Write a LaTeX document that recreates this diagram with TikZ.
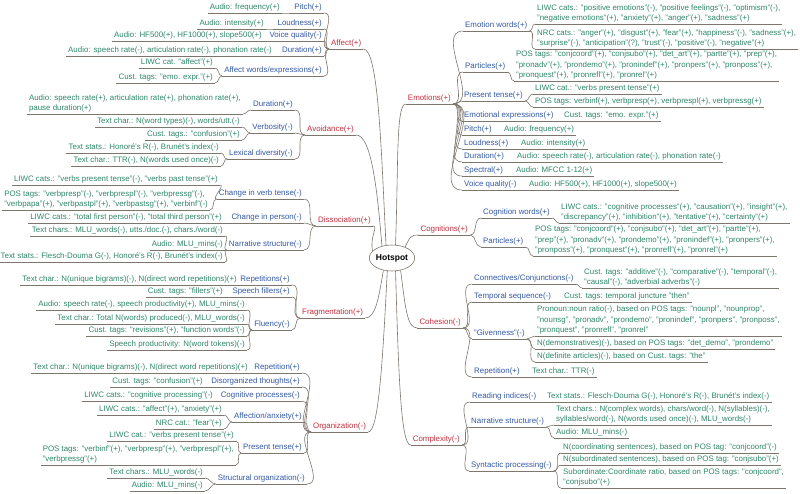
\documentclass[tikz,border=0pt]{standalone}
\usepackage{fontspec}
\setmainfont{Liberation Sans}
\usepackage{xcolor}
\usepackage{tikz}
\usetikzlibrary{shapes.geometric}
\definecolor{mmred}{RGB}{200,45,60}
\definecolor{mmblue}{RGB}{50,88,168}
\definecolor{mmgreen}{RGB}{45,135,105}
\definecolor{mmline}{RGB}{125,118,108}

\begin{document}
\begin{tikzpicture}
  [x=1pt,y=-1pt,
   every node/.style={font=\fontsize{7.9}{10.5}\selectfont,inner xsep=2pt,inner ysep=1.6pt},
   link/.style={draw=mmline,line width=0.6pt},
   fork/.style={out=0,in=180},
   uline/.style={append after command={(\tikzlastnode.south west) edge[link] (\tikzlastnode.south east)}},
   lmain/.style={uline,text=mmred,anchor=south west},
   rmain/.style={uline,text=mmred,anchor=south east},
   lsub/.style={uline,text=mmblue,anchor=south east},
   rsub/.style={uline,text=mmblue,anchor=south west},
   lleaf/.style={uline,text=mmgreen,anchor=south east,align=left},
   rleaf/.style={uline,text=mmgreen,anchor=south west,align=left}]
    \useasboundingbox (0,0) rectangle (800,494);

    \node[draw=mmline,line width=0.6pt,ellipse,inner sep=0pt,minimum width=43pt,minimum height=26pt,
          font=\fontsize{8.5}{10}\selectfont\bfseries] (hot) at (392,258) {Hotspot};

    % left side
    \node[lmain] (af) at (329,49) {Affect(+)};
    \node[lsub] (af1) at (324,13) {Pitch(+)};
    \node[lleaf] (af1a) at (282,13) {Audio: frequency(+)};
    \node[lsub] (af2) at (324,29) {Loudness(+)};
    \node[lleaf] (af2a) at (266,29) {Audio: intensity(+)};
    \node[lsub] (af3) at (324,41) {Voice quality(-)};
    \node[lleaf] (af3a) at (264,41) {Audio: HF500(+), HF1000(+), slope500(+)};
    \node[lsub] (af4) at (324,56) {Duration(+)};
    \node[lleaf] (af4a) at (274,56) {Audio: speech rate(-), articulation rate(-), phonation rate(-)};
    \node[lsub] (af5) at (324,76) {Affect words/expressions(+)};
    \node[lleaf] (af5a) at (215,68) {LIWC cat. "affect"(+)};
    \node[lleaf] (af5b) at (215,83) {Cust. tags: "emo. expr."(+)};

    \node[lmain] (av) at (305,135) {Avoidance(+)};
    \node[lsub] (av1) at (295,110) {Duration(+)};
    \node[lleaf] (av1a) at (243,114) {Audio: speech rate(+), articulation rate(+), phonation rate(+),\\pause duration(+)};
    \node[lsub] (av2) at (295,133) {Verbosity(-)};
    \node[lleaf] (av2a) at (242,127) {Text char.: N(word types)(-), words/utt.(-)};
    \node[lleaf] (av2b) at (242,140) {Cust. tags.: "confusion"(+)};
    \node[lsub] (av3) at (295,159) {Lexical diversity(-)};
    \node[lleaf] (av3a) at (221,153) {Text stats.: Honoré's R(-), Brunét's index(-)};
    \node[lleaf] (av3b) at (221,166) {Text char.: TTR(-), N(words used once)(-)};

    \node[lmain] (di) at (316,226) {Dissociation(+)};
    \node[lsub] (di1) at (304,199) {Change in verb tense(-)};
    \node[lleaf] (di1a) at (220,185) {LIWC cats.: "verbs present tense"(-), "verbs past tense"(+)};
    \node[lleaf] (di1b) at (210,210) {POS tags: "verbpresp"(-), "verbprespl"(-), "verbpressg"(-),\\"verbpapa"(+), "verbpastpl"(+), "verbpastsg"(+), "verbinf"(-)};
    \node[lsub] (di2) at (304,223) {Change in person(-)};
    \node[lleaf] (di2a) at (224,223) {LIWC cats.: "total first person"(-), "total third person"(+)};
    \node[lsub] (di3) at (304,250) {Narrative structure(-)};
    \node[lleaf] (di3a) at (225,236) {Text chars.: MLU\_words(-), utts./doc.(-), chars./word(-)};
    \node[lleaf] (di3b) at (225,250) {Audio: MLU\_mins(-)};
    \node[lleaf] (di3c) at (225,262) {Text stats.: Flesch-Douma G(-), Honoré's R(-), Brunét's index(-)};

    \node[lmain] (fr) at (300,318) {Fragmentation(+)};
    \node[lsub] (fr1) at (292,285) {Repetitions(+)};
    \node[lleaf] (fr1a) at (239,285) {Text char.: N(unique bigrams)(-), N(direct word repetitions)(+)};
    \node[lsub] (fr2) at (292,297) {Speech fillers(+)};
    \node[lleaf] (fr2a) at (225,297) {Cust. tags: "fillers"(+)};
    \node[lsub] (fr3) at (292,330) {Fluency(-)};
    \node[lleaf] (fr3a) at (247,310) {Audio: speech rate(-), speech productivity(+), MLU\_mins(-)};
    \node[lleaf] (fr3b) at (247,324) {Text char.: Total N(words) produced(-), MLU\_words(-)};
    \node[lleaf] (fr3c) at (247,336) {Cust. tags: "revisions"(+), "function words"(-)};
    \node[lleaf] (fr3d) at (247,350) {Speech productivity: N(word tokens)(-)};

    \node[lmain] (or) at (311,432) {Organization(-)};
    \node[lsub] (or1) at (302,373) {Repetition(+)};
    \node[lleaf] (or1a) at (250,373) {Text char.: N(unique bigrams)(-), N(direct word repetitions)(+)};
    \node[lsub] (or2) at (302,387) {Disorganized thoughts(+)};
    \node[lleaf] (or2a) at (205,387) {Cust. tags: "confusion"(+)};
    \node[lsub] (or3) at (302,401) {Cognitive processes(-)};
    \node[lleaf] (or3a) at (215,401) {LIWC cats.: "cognitive processing"(-)};
    \node[lsub] (or4) at (304,422) {Affection/anxiety(+)};
    \node[lleaf] (or4a) at (224,415) {LIWC cats.: "affect"(+), "anxiety"(+)};
    \node[lleaf] (or4b) at (224,429) {NRC cat.: "fear"(+)};
    \node[lsub] (or5) at (304,453) {Present tense(+)};
    \node[lleaf] (or5a) at (236,441) {LIWC cat.: "verbs present tense"(+)};
    \node[lleaf] (or5b) at (236,465) {POS tags: "verbinf"(+), "verbpresp"(+), "verbprespl"(+),\\"verbpressg"(+)};
    \node[lsub] (or6) at (307,484) {Structural organization(-)};
    \node[lleaf] (or6a) at (205,478) {Text chars.: MLU\_words(-)};
    \node[lleaf] (or6b) at (205,491) {Audio: MLU\_mins(-)};

    % right side
    \node[rmain] (em) at (453,104) {Emotions(+)};
    \node[rsub] (em1) at (463,31) {Emotion words(+)};
    \node[rleaf] (em1a) at (535,24) {LIWC cats.: "positive emotions"(-), "positive feelings"(-), "optimism"(-),\\"negative emotions"(+), "anxiety"(+), "anger"(+), "sadness"(+)};
    \node[rleaf] (em1b) at (535,49) {NRC cats.: "anger"(+), "disgust"(+), "fear"(+), "happiness"(-), "sadness"(+),\\"surprise"(-), "anticipation"(?), "trust"(-), "positive"(-), "negative"(+)};
    \node[rsub] (em2) at (463,72) {Particles(+)};
    \node[rleaf] (em2a) at (514,81) {POS tags: "conjcoord"(+), "conjsubo"(+), "det\_art"(+), "partte"(+), "prep"(+),\\"pronadv"(+), "prondemo"(+), "pronindef"(+), "pronpers"(+), "pronposs"(+),\\"pronquest"(+), "pronrefl"(+), "pronrel"(+)};
    \node[rsub] (em3) at (462,101) {Present tense(+)};
    \node[rleaf] (em3a) at (533,94) {LIWC cat.: "verbs present tense"(+)};
    \node[rleaf] (em3b) at (533,107) {POS tags: verbinf(+), verbpresp(+), verbprespl(+), verbpressg(+)};
    \node[rsub] (em4) at (462,121) {Emotional expressions(+)};
    \node[rleaf] (em4a) at (562,121) {Cust. tags: "emo. expr."(+)};
    \node[rsub] (em5) at (462,135) {Pitch(+)};
    \node[rleaf] (em5a) at (502,135) {Audio: frequency(+)};
    \node[rsub] (em6) at (462,149) {Loudness(+)};
    \node[rleaf] (em6a) at (519,149) {Audio: intensity(+)};
    \node[rsub] (em7) at (462,162) {Duration(+)};
    \node[rleaf] (em7a) at (515,162) {Audio: speech rate(-), articulation rate(-), phonation rate(-)};
    \node[rsub] (em8) at (462,176) {Spectral(+)};
    \node[rleaf] (em8a) at (514,176) {Audio: MFCC 1-12(+)};
    \node[rsub] (em9) at (462,190) {Voice quality(-)};
    \node[rleaf] (em9a) at (527,190) {Audio: HF500(+), HF1000(+), slope500(+)};

    \node[rmain] (co) at (470,235) {Cognitions(+)};
    \node[rsub] (co1) at (481,218) {Cognition words(+)};
    \node[rleaf] (co1a) at (559,223) {LIWC cats.: "cognitive processes"(+), "causation"(+), "insight"(+),\\"discrepancy"(+), "inhibition"(+), "tentative"(+), "certainty"(+)};
    \node[rsub] (co2) at (481,247) {Particles(+)};
    \node[rleaf] (co2a) at (533,256) {POS tags: "conjcoord"(+), "conjsubo"(+), "det\_art"(+), "partte"(+),\\"prep"(+), "pronadv"(+), "prondemo"(+), "pronindef"(+), "pronpers"(+),\\"pronposs"(+), "pronquest"(+), "pronrefl"(+), "pronrel"(+)};

    \node[rmain] (ch) at (463,328) {Cohesion(-)};
    \node[rsub] (ch1) at (472,284) {Connectives/Conjunctions(-)};
    \node[rleaf] (ch1a) at (582,288) {Cust. tags: "additive"(-), "comparative"(-), "temporal"(-),\\"causal"(-), "adverbial adverbs"(-)};
    \node[rsub] (ch2) at (472,302) {Temporal sequence(-)};
    \node[rleaf] (ch2a) at (562,302) {Cust. tags: temporal juncture "then"};
    \node[rsub] (ch3) at (472,339) {"Givenness"(-)};
    \node[rleaf] (ch3a) at (535,336) {Pronoun:noun ratio(-), based on POS tags: "nounpl", "nounprop",\\"nounsg", "pronadv", "prondemo", "pronindef", "pronpers", "pronposs",\\"pronquest", "pronrefl", "pronrel"};
    \node[rleaf] (ch3b) at (535,349) {N(demonstratives)(-), based on POS tags: "det\_demo", "prondemo"};
    \node[rleaf] (ch3c) at (535,362) {N(definite articles)(-), based on Cust. tags: "the"};
    \node[rsub] (ch4) at (472,377) {Repetition(+)};
    \node[rleaf] (ch4a) at (530,377) {Text char.: TTR(-)};

    \node[rmain] (cx) at (462,445) {Complexity(-)};
    \node[rsub] (cx1) at (470,402) {Reading indices(-)};
    \node[rleaf] (cx1a) at (545,402) {Text stats.: Flesch-Douma G(-), Honoré's R(-), Brunét's index(-)};
    \node[rsub] (cx2) at (469,427) {Narrative structure(-)};
    \node[rleaf] (cx2a) at (554,425) {Text chars.: N(complex words), chars/word(-), N(syllables)(-),\\syllables/word(-), N(words used once)(-), MLU\_words(-)};
    \node[rleaf] (cx2b) at (554,438) {Audio: MLU\_mins(-)};
    \node[rsub] (cx3) at (469,471) {Syntactic processing(-)};
    \node[rleaf] (cx3a) at (561,453) {N(coordinating sentences), based on POS tag: "conjcoord"(-)};
    \node[rleaf] (cx3b) at (561,465) {N(subordinated sentences), based on POS tag: "conjsubo"(+)};
    \node[rleaf] (cx3c) at (561,488) {Subordinate:Coordinate ratio, based on POS tags: "conjcoord",\\"conjsubo"(+)};

    % root links
    \draw[link] (hot.115) .. controls +(-5,-100) and +(15,0) .. (af.south east);
    \draw[link] (hot.130) .. controls +(-5,-60) and +(15,0) .. (av.south east);
    \draw[link] (hot.160) .. controls +(-3,-15) and +(6,0) .. (di.south east);
    \draw[link] (hot.235) .. controls +(-5,30) and +(10,0) .. (fr.south east);
    \draw[link] (hot.250) .. controls +(-5,100) and +(10,0) .. (or.south east);
    \draw[link] (hot.75) .. controls +(3,-80) and +(-10,0) .. (em.south west);
    \draw[link] (hot.40) .. controls +(5,-10) and +(-8,0) .. (co.south west);
    \draw[link] (hot.305) .. controls +(5,40) and +(-10,0) .. (ch.south west);
    \draw[link] (hot.285) .. controls +(3,100) and +(-10,0) .. (cx.south west);

    % left links
    \draw[link] (af1.south east) to[fork] (af.south west);
    \draw[link] (af2.south east) to[fork] (af.south west);
    \draw[link] (af3.south east) to[fork] (af.south west);
    \draw[link] (af4.south east) to[fork] (af.south west);
    \draw[link] (af5.south east) to[fork] (af.south west);
    \draw[link] (af1a.south east) to[fork] (af1.south west);
    \draw[link] (af2a.south east) to[fork] (af2.south west);
    \draw[link] (af3a.south east) to[fork] (af3.south west);
    \draw[link] (af4a.south east) to[fork] (af4.south west);
    \draw[link] (af5a.south east) to[fork] (af5.south west);
    \draw[link] (af5b.south east) to[fork] (af5.south west);

    \draw[link] (av1.south east) to[fork] (av.south west);
    \draw[link] (av2.south east) to[fork] (av.south west);
    \draw[link] (av3.south east) to[fork] (av.south west);
    \draw[link] (av1a.south east) to[fork] (av1.south west);
    \draw[link] (av2a.south east) to[fork] (av2.south west);
    \draw[link] (av2b.south east) to[fork] (av2.south west);
    \draw[link] (av3a.south east) to[fork] (av3.south west);
    \draw[link] (av3b.south east) to[fork] (av3.south west);

    \draw[link] (di1.south east) to[fork] (di.south west);
    \draw[link] (di2.south east) to[fork] (di.south west);
    \draw[link] (di3.south east) to[fork] (di.south west);
    \draw[link] (di1a.south east) to[fork] (di1.south west);
    \draw[link] (di1b.south east) to[fork] (di1.south west);
    \draw[link] (di2a.south east) to[fork] (di2.south west);
    \draw[link] (di3a.south east) to[fork] (di3.south west);
    \draw[link] (di3b.south east) to[fork] (di3.south west);
    \draw[link] (di3c.south east) to[fork] (di3.south west);

    \draw[link] (fr1.south east) to[fork] (fr.south west);
    \draw[link] (fr2.south east) to[fork] (fr.south west);
    \draw[link] (fr3.south east) to[fork] (fr.south west);
    \draw[link] (fr1a.south east) to[fork] (fr1.south west);
    \draw[link] (fr2a.south east) to[fork] (fr2.south west);
    \draw[link] (fr3a.south east) to[fork] (fr3.south west);
    \draw[link] (fr3b.south east) to[fork] (fr3.south west);
    \draw[link] (fr3c.south east) to[fork] (fr3.south west);
    \draw[link] (fr3d.south east) to[fork] (fr3.south west);

    \draw[link] (or1.south east) to[fork] (or.south west);
    \draw[link] (or2.south east) to[fork] (or.south west);
    \draw[link] (or3.south east) to[fork] (or.south west);
    \draw[link] (or4.south east) to[fork] (or.south west);
    \draw[link] (or5.south east) to[fork] (or.south west);
    \draw[link] (or6.south east) to[fork] (or.south west);
    \draw[link] (or1a.south east) to[fork] (or1.south west);
    \draw[link] (or2a.south east) to[fork] (or2.south west);
    \draw[link] (or3a.south east) to[fork] (or3.south west);
    \draw[link] (or4a.south east) to[fork] (or4.south west);
    \draw[link] (or4b.south east) to[fork] (or4.south west);
    \draw[link] (or5a.south east) to[fork] (or5.south west);
    \draw[link] (or5b.south east) to[fork] (or5.south west);
    \draw[link] (or6a.south east) to[fork] (or6.south west);
    \draw[link] (or6b.south east) to[fork] (or6.south west);

    % right links
    \draw[link] (em.south east) to[fork] (em1.south west);
    \draw[link] (em.south east) to[fork] (em2.south west);
    \draw[link] (em.south east) to[fork] (em3.south west);
    \draw[link] (em.south east) to[fork] (em4.south west);
    \draw[link] (em.south east) to[fork] (em5.south west);
    \draw[link] (em.south east) to[fork] (em6.south west);
    \draw[link] (em.south east) to[fork] (em7.south west);
    \draw[link] (em.south east) to[fork] (em8.south west);
    \draw[link] (em.south east) to[fork] (em9.south west);
    \draw[link] (em1.south east) to[fork] (em1a.south west);
    \draw[link] (em1.south east) to[fork] (em1b.south west);
    \draw[link] (em2.south east) to[fork] (em2a.south west);
    \draw[link] (em3.south east) to[fork] (em3a.south west);
    \draw[link] (em3.south east) to[fork] (em3b.south west);
    \draw[link] (em4.south east) to[fork] (em4a.south west);
    \draw[link] (em5.south east) to[fork] (em5a.south west);
    \draw[link] (em6.south east) to[fork] (em6a.south west);
    \draw[link] (em7.south east) to[fork] (em7a.south west);
    \draw[link] (em8.south east) to[fork] (em8a.south west);
    \draw[link] (em9.south east) to[fork] (em9a.south west);

    \draw[link] (co.south east) to[fork] (co1.south west);
    \draw[link] (co.south east) to[fork] (co2.south west);
    \draw[link] (co1.south east) to[fork] (co1a.south west);
    \draw[link] (co2.south east) to[fork] (co2a.south west);

    \draw[link] (ch.south east) to[fork] (ch1.south west);
    \draw[link] (ch.south east) to[fork] (ch2.south west);
    \draw[link] (ch.south east) to[fork] (ch3.south west);
    \draw[link] (ch.south east) to[fork] (ch4.south west);
    \draw[link] (ch1.south east) to[fork] (ch1a.south west);
    \draw[link] (ch2.south east) to[fork] (ch2a.south west);
    \draw[link] (ch3.south east) to[fork] (ch3a.south west);
    \draw[link] (ch3.south east) to[fork] (ch3b.south west);
    \draw[link] (ch3.south east) to[fork] (ch3c.south west);
    \draw[link] (ch4.south east) to[fork] (ch4a.south west);

    \draw[link] (cx.south east) to[fork] (cx1.south west);
    \draw[link] (cx.south east) to[fork] (cx2.south west);
    \draw[link] (cx.south east) to[fork] (cx3.south west);
    \draw[link] (cx1.south east) to[fork] (cx1a.south west);
    \draw[link] (cx2.south east) to[fork] (cx2a.south west);
    \draw[link] (cx2.south east) to[fork] (cx2b.south west);
    \draw[link] (cx3.south east) to[fork] (cx3a.south west);
    \draw[link] (cx3.south east) to[fork] (cx3b.south west);
    \draw[link] (cx3.south east) to[fork] (cx3c.south west);

\end{tikzpicture}
\end{document}
